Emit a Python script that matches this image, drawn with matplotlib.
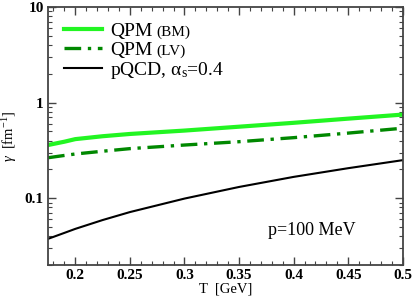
import matplotlib
matplotlib.use('Agg')
import matplotlib.pyplot as plt
import numpy as np
from matplotlib.ticker import MultipleLocator, LogLocator, FixedLocator, FixedFormatter, NullFormatter

plt.rcParams['font.family'] = ['Liberation Serif', 'DejaVu Serif']
plt.rcParams['mathtext.fontset'] = 'custom'
plt.rcParams['mathtext.rm'] = 'Liberation Serif'
plt.rcParams['mathtext.it'] = 'Liberation Serif:italic'

# values
T = [0.175, 0.19, 0.2, 0.225, 0.25, 0.3, 0.35, 0.4, 0.45, 0.5]
qpm_bm = [0.36, 0.39, 0.415, 0.445, 0.47, 0.51, 0.56, 0.615, 0.68, 0.75]
qpm_lv = [0.265, 0.28, 0.29, 0.31, 0.33, 0.36, 0.39, 0.43, 0.48, 0.54]
pqcd = [0.0375, 0.0433, 0.0477, 0.059, 0.0715, 0.099, 0.131, 0.167, 0.206, 0.25]

fig = plt.figure(figsize=(4.14, 2.97), dpi=100)
ax = fig.add_axes([0.116, 0.108, 0.857, 0.868])

l1, = ax.plot(T, qpm_bm, color='#22f522', lw=3.0, label='QPM')
l2, = ax.plot(T, qpm_lv, color='#008800', lw=2.4, dashes=[5, 2, 1, 2], label='QPM')
l3, = ax.plot(T, pqcd, color='black', lw=1.5, label=r'pQCD, $\mathregular{\alpha_s}$=0.4')

ax.set_yscale('log')
ax.set_xlim(0.175, 0.5)
ax.set_ylim(0.02, 10)

ax.xaxis.set_major_locator(MultipleLocator(0.05))
ax.xaxis.set_minor_locator(MultipleLocator(0.01))
ax.xaxis.set_major_formatter(plt.FuncFormatter(lambda v, p: ('%g' % v)))
ax.yaxis.set_major_locator(FixedLocator([0.1, 1, 10]))
ax.yaxis.set_major_formatter(FixedFormatter(['0.1', '1', '10']))
ax.yaxis.set_minor_locator(LogLocator(subs=np.arange(2, 10)))
ax.yaxis.set_minor_formatter(NullFormatter())

ax.tick_params(which='both', direction='in', top=True, right=True, color='#444444')
ax.tick_params(which='major', length=6, width=1.0, pad=3)
ax.tick_params(which='minor', length=3, width=0.8)
for lab in ax.get_xticklabels() + ax.get_yticklabels():
    lab.set_fontweight('bold')
    lab.set_fontsize(11)
for s in ax.spines.values():
    s.set_linewidth(1.3)
    s.set_color('#444444')

ax.set_xlabel('T  [GeV]', fontsize=10.5, labelpad=0)
ax.set_ylabel(r'$\gamma$  [fm$^{\mathregular{-1}}$]', fontsize=10.5, labelpad=4)

ax.text(0.4165, 0.046, 'p=100 MeV', fontsize=13, ha='center', va='center')

leg = ax.legend(loc='upper left', frameon=False, fontsize=14, handlelength=2.0,
                handletextpad=0.4, labelspacing=0.05, borderaxespad=0.45,
                borderpad=0.35)

fig.canvas.draw()
inv = ax.transAxes.inverted()
for txt, extra in zip(leg.get_texts()[:2], ['(BM)', '(LV)']):
    bb = txt.get_window_extent()
    x0, y0 = inv.transform((bb.x1 + 4, bb.y0 + 0.22 * 14 * 100 / 72))
    ax.text(x0, y0, extra, transform=ax.transAxes, fontsize=11, ha='left', va='baseline')

fig.savefig('out.png', dpi=100)
